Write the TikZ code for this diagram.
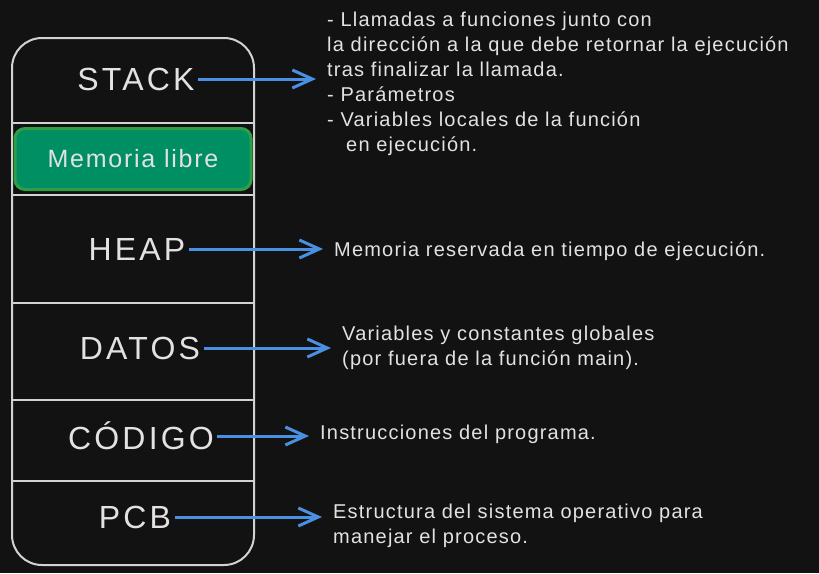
\documentclass[tikz,border=0pt]{standalone}
\usepackage{fontspec}
\setmainfont{Liberation Sans}
\usetikzlibrary{arrows.meta}
\definecolor{fondo}{HTML}{121212}
\definecolor{trazo}{HTML}{D2D2D2}
\definecolor{texto}{HTML}{E2E2E2}
\definecolor{flecha}{HTML}{4A90E2}
\definecolor{verde}{HTML}{008F62}
\definecolor{borde}{HTML}{2F9E44}

\begin{document}
\begin{tikzpicture}[x=1pt, y=-1pt]
    \tikzstyle segmento=[text=texto, font=\fontsize{32}{36}\selectfont\addfontfeature{LetterSpace=10}]
    \tikzstyle nota=[text=texto, anchor=west, align=left, inner sep=0pt, font=\fontsize{20}{25}\selectfont\addfontfeature{LetterSpace=6}]
    \tikzstyle flechita=[flecha, line width=3pt, shorten >=11pt, -{Straight Barb[length=20pt,width=18pt]}]
    \fill[fondo] (0,0) rectangle (819,573);
    \useasboundingbox (0,0) rectangle (819,573);
    \draw[trazo, line width=2pt, rounded corners=30pt] (12,38) rectangle (254,565);
    \foreach \y in {123,195,303,400,481}
      \draw[trazo, line width=2pt] (12,\y) -- (254,\y);
    \node[draw=borde, fill=verde, line width=3pt, rounded corners=10pt,
      minimum width=236pt, minimum height=61pt, text=texto,
      font=\fontsize{25}{30}\selectfont\addfontfeature{LetterSpace=7}] (libre) at (133,159) {Memoria libre};
    \node[segmento] (stack) at (136,79) {STACK};
    \node[segmento] (heap) at (137,249) {HEAP};
    \node[segmento] (datos) at (140,348) {DATOS};
    \node[segmento] (codigo) at (141,436) {CÓDIGO};
    \node[segmento] (pcb) at (135,517) {PCB};
    \node[nota] (dstack) at (327,84) {- Llamadas a funciones junto con\\
      la dirección a la que debe retornar la ejecución\\
      tras finalizar la llamada.\\
      - Parámetros\\
      - Variables locales de la función\\
      \hspace*{19pt}en ejecución.};
    \node[nota] (dheap) at (334,251) {Memoria reservada en tiempo de ejecución.};
    \node[nota] (ddatos) at (342,348) {Variables y constantes globales\\
      (por fuera de la función main).};
    \node[nota] (dcodigo) at (320,434) {Instrucciones del programa.};
    \node[nota] (dpcb) at (333,526) {Estructura del sistema operativo para\\
      manejar el proceso.};
    \draw[flechita] (stack.east) -- (stack.east -| dstack.west);
    \draw[flechita] (heap.east) -- (heap.east -| dheap.west);
    \draw[flechita] (datos.east) -- (datos.east -| ddatos.west);
    \draw[flechita] (codigo.east) -- (codigo.east -| dcodigo.west);
    \draw[flechita] (pcb.east) -- (pcb.east -| dpcb.west);
  \end{tikzpicture}
\end{document}
